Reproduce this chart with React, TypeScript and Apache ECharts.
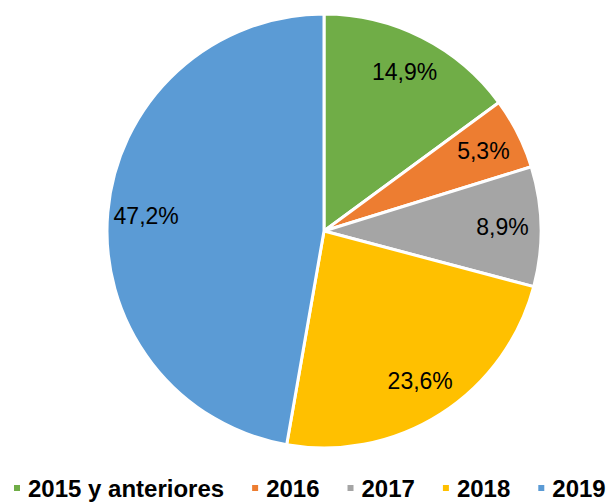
import React, { useEffect, useRef } from "react";
import * as echarts from "echarts";

const categories = ["2015 y anteriores", "2016", "2017", "2018", "2019"];
const values = [14.9, 5.3, 8.9, 23.6, 47.2];
const colors = ["#70AD47", "#ED7D31", "#A5A5A5", "#FFC000", "#5B9BD5"];

const FONT = "'Liberation Sans', Arial, sans-serif";

export default function App() {
  const ref = useRef<HTMLDivElement>(null);
  useEffect(() => {
    if (!ref.current) return;
    const chart = echarts.init(ref.current, null, { renderer: "svg" });
    const data = categories.map((name, i) => ({
      name,
      value: values[i],
      itemStyle: { color: colors[i] },
    }));
    const fmt = (p: any) => p.value.toFixed(1).replace(".", ",") + "%";
    chart.setOption({
      animation: false,
      backgroundColor: "#ffffff",
      legend: {
        data: categories,
        left: 12,
        top: 476,
        width: 800,
        padding: 0,
        icon: "rect",
        itemWidth: 8,
        itemHeight: 8,
        itemGap: 26,
        textStyle: {
          fontFamily: FONT,
          fontWeight: "bold",
          fontSize: 24,
          lineHeight: 24,
          color: "#000",
          padding: [0, 0, 0, 2],
        },
      },
      series: [
        {
          type: "pie",
          center: [324, 231],
          radius: [0, 217],
          startAngle: 90,
          clockwise: true,
          label: { show: false },
          labelLine: { show: false },
          itemStyle: { borderColor: "#ffffff", borderWidth: 3 },
          emphasis: { disabled: true },
          data,
        },
        {
          type: "pie",
          center: [324, 231],
          radius: [134, 217],
          startAngle: 90,
          clockwise: true,
          silent: true,
          legendHoverLink: false,
          itemStyle: { color: "transparent", borderWidth: 0 },
          label: {
            show: true,
            position: "inside",
            formatter: fmt,
            fontFamily: FONT,
            fontSize: 23,
            color: "#000",
          },
          labelLine: { show: false },
          emphasis: { disabled: true },
          data: categories.map((name, i) => ({
            name: name + " ",
            value: values[i],
            itemStyle: { color: "transparent" },
          })),
        },
      ],
    });
    return () => chart.dispose();
  }, []);
  return (
    <div
      ref={ref}
      style={{ position: "fixed", left: 0, top: 0, width: 607, height: 502 }}
    />
  );
}
